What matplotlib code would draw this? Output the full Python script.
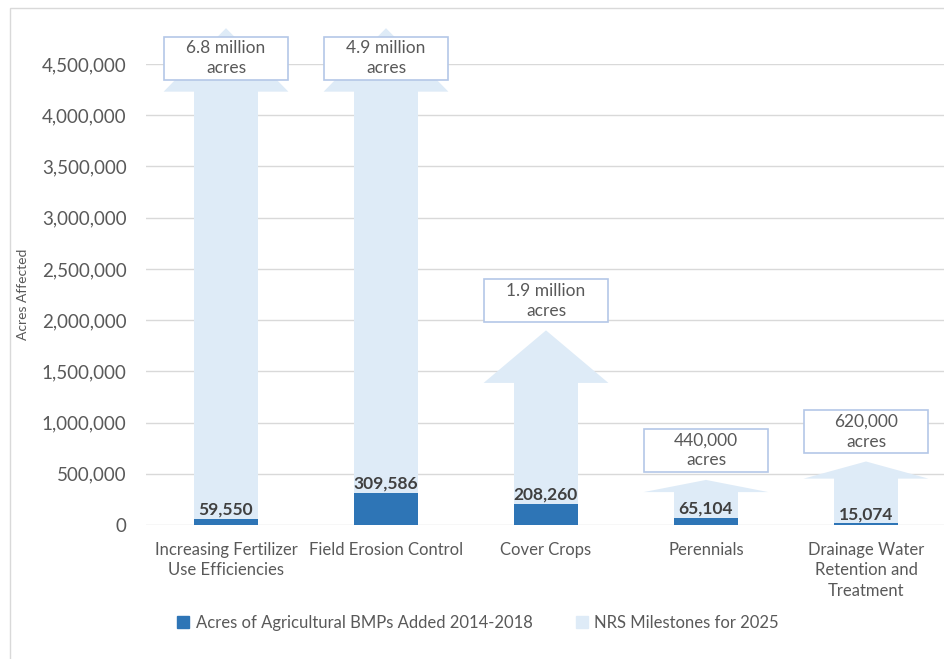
import matplotlib
matplotlib.use("Agg")
import matplotlib.pyplot as plt
from matplotlib.patches import Polygon, Rectangle
from matplotlib.ticker import FuncFormatter

# data
categories = ["Increasing Fertilizer\nUse Efficiencies", "Field Erosion Control",
              "Cover Crops", "Perennials", "Drainage Water\nRetention and\nTreatment"]
bmps_added = [59550, 309586, 208260, 65104, 15074]
milestones = [6_800_000, 4_900_000, 1_900_000, 440_000, 620_000]
milestone_text = ["6.8 million\nacres", "4.9 million\nacres", "1.9 million\nacres",
                  "440,000\nacres", "620,000\nacres"]
yticks = list(range(0, 4_500_001, 500_000))

# styling
DARK = "#2E75B6"
LIGHT = "#DEEBF7"
BOX_EDGE = "#B4C7E7"
TEXT = "#595959"
FONT = "Lato"
YMAX = 4_500_000
CAP = 4_850_000          # arrows taller than the axis are cut off here
px = YMAX / 461.0        # data units per pixel on the y axis

plt.rcParams["font.family"] = [FONT, "DejaVu Sans"]

fig = plt.figure(figsize=(9.45, 6.59), dpi=100)
ax = fig.add_axes([146 / 945, 134 / 659, 800 / 945, 461 / 659])

# outer frame of the chart
fig.patches.append(Rectangle((10 / 945, -0.1), 1.2, (651 / 659) + 0.1, transform=fig.transFigure,
                             fill=False, edgecolor="#D9D9D9", linewidth=1.0))

ax.set_xlim(-0.5, len(categories) - 0.5)
ax.set_ylim(0, YMAX)
ax.set_yticks(yticks)
ax.yaxis.set_major_formatter(FuncFormatter(lambda v, p: f"{int(v):,}"))
ax.grid(axis="y", color="#D9D9D9", linewidth=1.0, zorder=0)
ax.set_axisbelow(True)
for s in ax.spines.values():
    s.set_visible(False)
ax.tick_params(axis="both", length=0, colors=TEXT)
ax.tick_params(axis="y", pad=14, labelsize=13.5)
ax.tick_params(axis="x", pad=12, labelsize=12)
ax.set_xticks(range(len(categories)))
ax.set_xticklabels(categories, linespacing=1.35)
ax.set_ylabel("Acres Affected", color=TEXT, fontsize=10, labelpad=9)

shaft, head = 0.2, 0.39
for i, v in enumerate(milestones):
    tip = min(v, CAP)
    hl = min(0.27 * tip, 620_000)
    pts = [(i - shaft, 0), (i + shaft, 0), (i + shaft, tip - hl), (i + head, tip - hl),
           (i, tip), (i - head, tip - hl), (i - shaft, tip - hl)]
    ax.add_patch(Polygon(pts, closed=True, facecolor=LIGHT, edgecolor="none",
                         zorder=1, clip_on=False))
    # label box above the arrow (or over its head when cut off)
    bh = 43 * px
    if v > YMAX:
        yc = tip - 30 * px
    else:
        yc = tip + 8 * px + bh / 2
    ax.add_patch(Rectangle((i - 0.3875, yc - bh / 2), 0.775, bh, facecolor="white",
                           edgecolor=BOX_EDGE, linewidth=1.2, zorder=3, clip_on=False))
    ax.text(i, yc, milestone_text[i], ha="center", va="center", color=TEXT,
            fontsize=12.5, linespacing=1.3, zorder=4)

ax.bar(range(len(categories)), bmps_added, width=0.4, color=DARK, zorder=2)
for i, v in enumerate(bmps_added):
    ax.annotate(f"{v:,}", (i, v), xytext=(0, 1), textcoords="offset points",
                ha="center", va="bottom", fontsize=12.5, fontweight="bold",
                color="#404040", zorder=4)

# legend
h1 = Rectangle((0, 0), 1, 1, color=DARK)
h2 = Rectangle((0, 0), 1, 1, color=LIGHT)
fig.legend([h1, h2], ["Acres of Agricultural BMPs Added 2014-2018", "NRS Milestones for 2025"],
           loc="center", bbox_to_anchor=(0.506, 36 / 659), ncol=2, frameon=False,
           handlelength=0.7, handleheight=0.7, handletextpad=0.4, columnspacing=2.6,
           fontsize=12, labelcolor=TEXT)

fig.savefig("out.png", dpi=100)
